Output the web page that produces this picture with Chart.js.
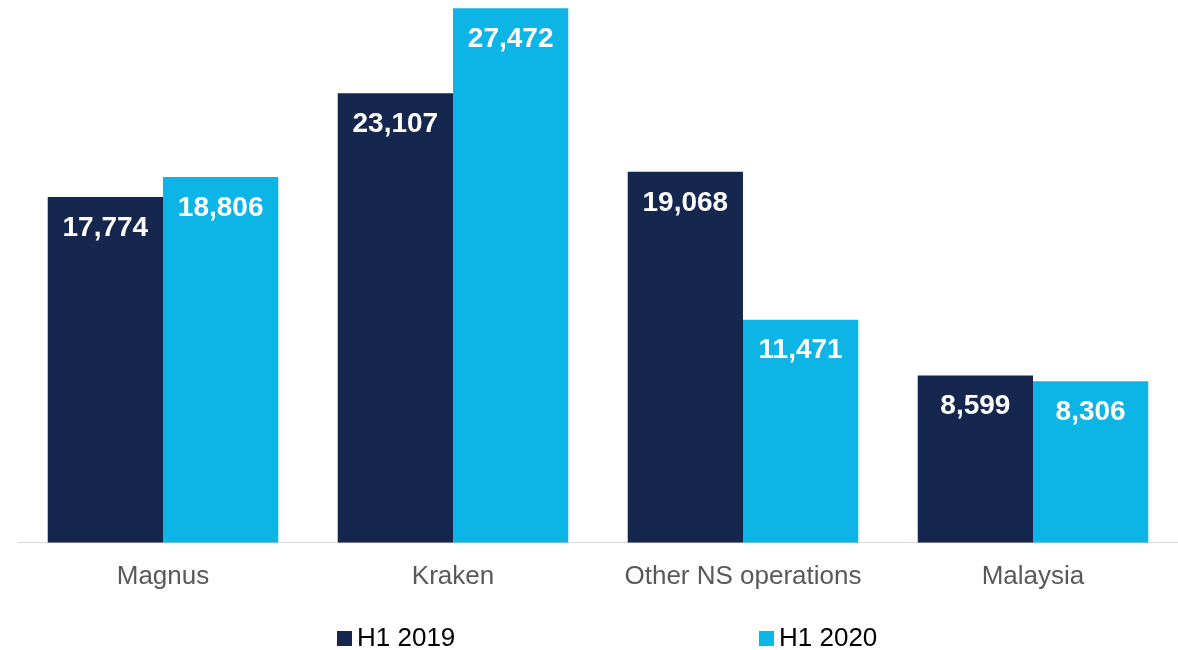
<!DOCTYPE html>
<html>
<head>
<meta charset="utf-8">
<script src="https://cdn.jsdelivr.net/npm/chart.js@4"></script>
<style>
  html, body { margin: 0; padding: 0; background: #fff; }
  #wrap { width: 1178px; height: 650px; }
</style>
</head>
<body>
<div id="wrap"><canvas id="costChart"></canvas></div>
<script>
const categories = ["Magnus", "Kraken", "Other NS operations", "Malaysia"];
const seriesNames = ["H1 2019", "H1 2020"];
const h1_2019 = [17774, 23107, 19068, 8599];
const h1_2020 = [18806, 27472, 11471, 8306];

const FONT = "'Liberation Sans', Arial, sans-serif";
const colors = ["#15264f", "#0db5e6"];

// white value labels inside the top of each bar
const barLabels = {
  id: "barLabels",
  afterDatasetsDraw(chart) {
    const ctx = chart.ctx;
    ctx.save();
    ctx.font = "bold 28px " + FONT;
    ctx.fillStyle = "#ffffff";
    ctx.textAlign = "center";
    ctx.textBaseline = "middle";
    chart.data.datasets.forEach((ds, i) => {
      chart.getDatasetMeta(i).data.forEach((bar, j) => {
        ctx.fillText(ds.data[j].toLocaleString("en-US"), bar.x, bar.y + 31);
      });
    });
    ctx.restore();
  },
};

// legend spread out under the chart
const wideLegend = {
  id: "wideLegend",
  afterDraw(chart) {
    const ctx = chart.ctx;
    const y = chart.height - 11;
    ctx.save();
    ctx.font = "26px " + FONT;
    ctx.textBaseline = "middle";
    ctx.textAlign = "left";
    chart.data.datasets.forEach((ds, i) => {
      const x = 337 + i * 422;
      ctx.fillStyle = ds.backgroundColor;
      ctx.fillRect(x, y - 8, 15, 15);
      ctx.fillStyle = "#000000";
      ctx.fillText(ds.label, x + 20, y);
    });
    ctx.restore();
  },
};

const ctx = document.getElementById("costChart").getContext("2d");
new Chart(ctx, {
  type: "bar",
  data: {
    labels: categories,
    datasets: [
      { label: seriesNames[0], data: h1_2019, backgroundColor: colors[0] },
      { label: seriesNames[1], data: h1_2020, backgroundColor: colors[1] },
    ],
  },
  options: {
    responsive: true,
    maintainAspectRatio: false,
    animation: false,
    layout: { padding: { left: 18, right: 0, top: 0, bottom: 40 } },
    datasets: {
      bar: { categoryPercentage: 0.795, barPercentage: 1.0 },
    },
    plugins: {
      legend: { display: false },
      tooltip: { enabled: false },
    },
    scales: {
      x: {
        grid: { display: false, drawTicks: false },
        border: { display: true, color: "#d9d9d9", width: 1 },
        ticks: {
          color: "#595959",
          padding: 18,
          font: { family: FONT, size: 26 },
        },
      },
      y: {
        display: false,
        min: 0,
        max: 27900,
      },
    },
  },
  plugins: [barLabels, wideLegend],
});
</script>
</body>
</html>
